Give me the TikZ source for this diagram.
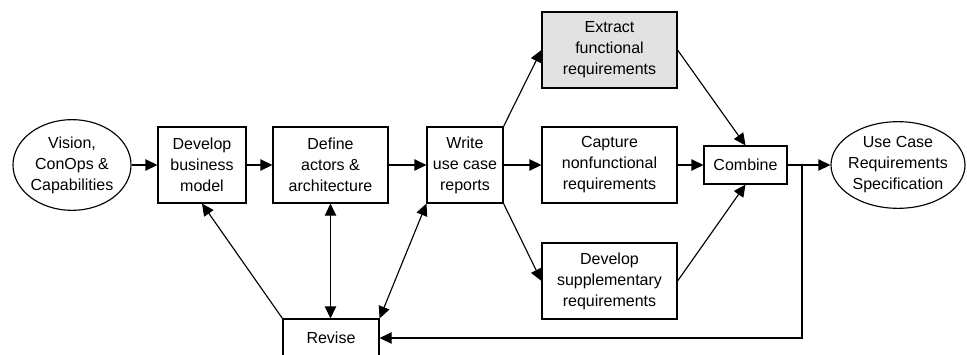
\documentclass[tikz,border=0pt]{standalone}
\usepackage{fontspec}
\setmainfont{Liberation Sans}
\usetikzlibrary{arrows.meta,shapes.geometric}
\definecolor{shade}{RGB}{226,226,226}
\begin{document}
\begin{tikzpicture}[x=0.75pt,y=-0.75pt,
  font=\fontsize{12}{15.75}\selectfont,
  lw/.style={line width=0.85pt},
  box/.style={lw, draw, inner sep=0pt, align=center, minimum height=57pt},
  smallbox/.style={lw, draw, inner sep=0pt, align=center, minimum height=28.5pt},
  ellip/.style={lw, draw, ellipse, inner sep=0pt},
  txt/.style={inner sep=0pt, align=center},
  tip/.tip={Triangle[length=9pt,width=8.5pt]},
  flow/.style={lw, -tip},
  both/.style={lw, tip-tip}
]
\useasboundingbox (0,0) rectangle (967,354);
\clip (0,0) rectangle (967,354);

% start and end documents
\node[ellip, minimum width=88.5pt, minimum height=68pt] (vision) at (72,165) {};
\node[txt] (visiontxt) at (vision) {Vision,\\ConOps \&\\Capabilities};
\node[ellip, minimum width=100.5pt, minimum height=65pt] (ucrs) at (898,165) {};
\node[txt] (ucrstxt) at (ucrs) {Use Case\\Requirements\\Specification};

% process steps
\node[box, minimum width=66pt] (dev) at (202,165) {Develop\\business\\model};
\node[box, minimum width=86.25pt] (def) at (330.5,165) {Define\\actors \&\\architecture};
\node[box, minimum width=57pt] (write) at (465,165) {Write\\use case\\reports};
\node[box, minimum width=101.25pt, fill=shade] (extract) at (609.5,50) {Extract\\functional\\requirements};
\node[box, minimum width=101.25pt] (capture) at (609.5,165) {Capture\\nonfunctional\\requirements};
\node[box, minimum width=101.25pt] (supp) at (609.5,281) {Develop\\supplementary\\requirements};
\node[smallbox, minimum width=62.25pt] (combine) at (745.5,165) {Combine};
\node[smallbox, minimum width=72pt] (revise) at (331,338) {Revise};

% main flow
\draw[flow] (vision) -- (dev);
\draw[flow] (dev) -- (def);
\draw[flow] (def) -- (write);
\draw[flow] (write.north east) -- (extract.west);
\draw[flow] (write) -- (capture);
\draw[flow] (write.south east) -- (supp.west);
\draw[flow] (extract.east) -- (combine.north);
\draw[flow] (capture) -- (combine);
\draw[flow] (supp.east) -- (combine.south);
\draw[flow] (combine) -- (ucrs);

% revision loop
\coordinate (fb) at (802,165);
\draw[flow] (fb) |- (revise.east);
\draw[flow] (revise.north west) -- (dev.south);
\draw[both] (def.south) -- (revise.north -| def.south);
\draw[both] (write.south west) -- (revise.north east);
\end{tikzpicture}
\end{document}
